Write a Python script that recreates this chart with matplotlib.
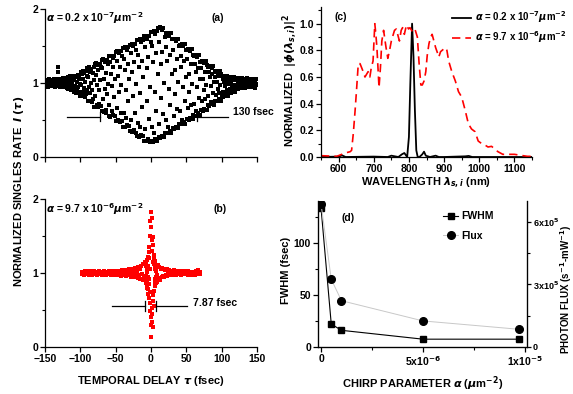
import numpy as np
import matplotlib
matplotlib.use('Agg')
import matplotlib.pyplot as plt
from matplotlib.ticker import MultipleLocator, FixedLocator

plt.rcParams['font.family'] = ['Liberation Sans', 'DejaVu Sans']
plt.rcParams['font.weight'] = 'bold'
plt.rcParams['axes.labelweight'] = 'bold'
plt.rcParams['font.size'] = 7.5
plt.rcParams['mathtext.default'] = 'it'

# ---- panel (a): singles rate, alpha = 0.2e-7, delay grid in fsec
tau_a = np.arange(-150, 150, 0.625)
rate_a = [
    1.02, 0.97, 1.04, 0.99, 0.96, 1.03, 1.01, 0.95, 1.05, 0.98, 1.02, 0.97, 1.04, 1.00, 0.96, 1.03,
    0.98, 1.04, 0.96, 1.02, 1.05, 0.97, 1.01, 0.95, 1.03, 0.99, 1.06, 0.96, 1.04, 1.21, 1.15, 0.97,
    1.03, 0.95, 1.06, 0.98, 0.94, 1.05, 1.01, 0.96, 1.07, 0.97, 1.03, 0.94, 1.06, 0.99, 0.95, 1.04,
    1.07, 0.93, 1.02, 1.08, 0.92, 0.98, 1.06, 0.94, 1.09, 0.96, 1.03, 0.91, 1.08, 0.99, 0.93, 1.07,
    1.10, 0.88, 1.04, 0.91, 1.09, 0.96, 0.87, 1.08, 1.01, 0.89, 1.11, 0.94, 1.06, 0.88, 1.09, 0.99,
    0.82, 1.15, 0.97, 1.12, 0.83, 1.05, 1.16, 0.88, 0.93, 1.14, 0.81, 1.02, 1.16, 0.85, 1.09, 0.91,
    1.20, 0.76, 1.08, 0.94, 1.21, 0.75, 1.15, 0.86, 1.00, 1.19, 0.74, 0.90, 1.13, 0.78, 1.21, 1.04,
    0.68, 1.26, 0.83, 1.11, 1.27, 0.70, 0.97, 1.24, 0.67, 1.18, 0.90, 0.72, 1.26, 1.04, 0.69, 1.22,
    1.31, 0.62, 1.20, 0.78, 1.32, 0.61, 1.05, 0.92, 1.29, 0.64, 1.14, 0.60, 1.31, 0.85, 0.99, 1.26,
    0.55, 1.36, 0.70, 1.28, 0.54, 1.12, 1.37, 0.62, 0.96, 1.34, 0.57, 1.21, 0.81, 1.37, 0.55, 1.05,
    1.42, 0.48, 1.30, 0.66, 1.43, 0.50, 1.10, 0.88, 1.40, 0.47, 1.22, 0.59, 1.43, 0.97, 0.49, 1.36,
    0.41, 1.47, 0.60, 1.33, 0.40, 1.18, 1.48, 0.53, 0.90, 1.45, 0.43, 1.25, 0.76, 1.48, 0.42, 1.05,
    1.52, 0.35, 1.40, 0.50, 1.53, 0.34, 1.15, 0.82, 1.50, 0.36, 1.28, 0.60, 1.53, 0.98, 0.33, 1.45,
    0.28, 1.58, 0.46, 1.38, 0.27, 1.22, 1.59, 0.40, 0.86, 1.55, 0.30, 1.30, 0.68, 1.58, 0.29, 1.08,
    1.63, 0.22, 1.48, 0.38, 1.64, 0.21, 1.20, 0.75, 1.60, 0.24, 1.35, 0.52, 1.64, 0.95, 0.20, 1.55,
    0.21, 1.69, 0.40, 1.50, 0.20, 1.28, 1.70, 0.33, 0.88, 1.66, 0.24, 1.40, 0.62, 1.70, 0.22, 1.12,
    1.74, 0.27, 1.55, 0.45, 1.75, 0.26, 1.25, 0.80, 1.71, 0.29, 1.42, 0.58, 1.74, 1.00, 0.27, 1.62,
    0.33, 1.67, 0.50, 1.48, 0.32, 1.30, 1.68, 0.40, 0.92, 1.64, 0.35, 1.38, 0.70, 1.68, 0.33, 1.12,
    1.59, 0.39, 1.45, 0.55, 1.60, 0.38, 1.18, 0.85, 1.57, 0.41, 1.32, 0.65, 1.60, 1.02, 0.39, 1.50,
    0.45, 1.52, 0.62, 1.36, 0.44, 1.22, 1.53, 0.50, 0.95, 1.50, 0.47, 1.30, 0.75, 1.53, 0.45, 1.08,
    1.45, 0.51, 1.33, 0.66, 1.46, 0.50, 1.12, 0.88, 1.43, 0.53, 1.25, 0.70, 1.46, 0.98, 0.51, 1.38,
    0.57, 1.37, 0.72, 1.26, 0.56, 1.15, 1.38, 0.62, 0.95, 1.35, 0.59, 1.20, 0.80, 1.38, 0.57, 1.05,
    1.29, 0.63, 1.20, 0.75, 1.30, 0.62, 1.05, 0.90, 1.27, 0.65, 1.15, 0.78, 1.30, 0.97, 0.63, 1.24,
    0.70, 1.22, 0.82, 1.15, 0.69, 1.08, 1.23, 0.74, 0.96, 1.20, 0.71, 1.12, 0.86, 1.23, 0.70, 1.02,
    1.15, 0.76, 1.08, 0.84, 1.16, 0.75, 1.02, 0.92, 1.14, 0.78, 1.10, 0.86, 1.16, 0.97, 0.76, 1.12,
    0.82, 1.09, 0.88, 1.05, 0.81, 1.01, 1.10, 0.85, 0.96, 1.08, 0.83, 1.04, 0.91, 1.10, 0.82, 0.99,
    1.07, 0.88, 1.03, 0.92, 1.08, 0.87, 0.99, 0.95, 1.06, 0.89, 1.04, 0.93, 1.08, 0.97, 0.88, 1.05,
    0.93, 1.06, 0.97, 1.04, 0.92, 1.01, 1.07, 0.95, 0.99, 1.05, 0.94, 1.03, 0.96, 1.07, 0.93, 1.00,
    1.05, 0.94, 1.02, 0.97, 1.06, 0.93, 1.00, 1.04, 0.95, 1.07, 0.98, 0.94, 1.03, 0.96, 1.05, 0.99,
    0.96, 1.04, 0.99, 1.06, 0.94, 1.02, 0.97, 1.05, 0.95, 1.03, 1.00, 0.93, 1.04, 0.98, 1.06, 0.97,
]

# ---- panel (b): singles rate, alpha = 9.7e-6
tau_b_left = np.arange(-98, -8, 1)
rate_b_left = [
    1.02, 0.98, 1.01, 0.97, 1.03, 0.99, 1.02, 0.98, 1.00, 1.03,
    0.97, 1.01, 1.03, 0.98, 1.00, 0.97, 1.02, 0.99, 1.03, 0.98,
    1.01, 0.97, 1.02, 0.99, 1.03, 0.98, 1.00, 1.02, 0.97, 1.01,
    0.99, 1.03, 0.98, 1.01, 0.97, 1.02, 1.00, 0.98, 1.03, 0.99,
    1.02, 0.97, 1.01, 0.99, 1.03, 0.98, 1.02, 0.97, 1.00, 1.03,
    0.98, 1.02, 0.97, 1.03, 0.99, 1.01, 0.96, 1.04, 0.98, 1.02,
    0.97, 1.04, 0.99, 0.96, 1.03, 1.01, 0.97, 1.05, 0.98, 1.03,
    0.95, 1.06, 0.99, 1.04, 0.94, 1.02, 1.07, 0.96, 1.03, 0.93,
    1.08, 0.97, 1.05, 0.92, 1.10, 0.99, 0.91, 1.12, 0.95, 1.15,
]
tau_b_core = np.arange(-8, 8.01, 0.25)
rate_b_core = [
    0.93, 1.09, 0.88, 1.14, 0.96, 0.86, 1.12, 1.02, 0.84,
    1.18, 0.90, 1.05, 0.80, 1.22, 0.95, 0.78, 1.10,
    0.72, 1.28, 0.92, 0.66, 1.20, 0.85, 1.35, 0.60,
    1.05, 0.48, 1.50, 0.74, 1.70, 0.40, 1.82, 0.30,
    1.62, 0.14, 1.44, 0.53, 1.75, 0.34, 1.30, 0.45,
    1.48, 0.27, 1.15, 0.62, 1.38, 0.70, 1.25, 0.55,
    1.12, 0.76, 1.20, 0.82, 1.08, 0.88, 1.16, 0.92,
    1.06, 0.86, 1.11, 0.94, 1.03, 0.90, 1.08, 0.97,
]
tau_b_right = np.arange(9, 71, 1)
rate_b_right = [
    0.88, 1.11, 0.93, 1.08, 0.90, 1.06, 0.94, 1.07, 0.96, 1.05,
    0.95, 1.04, 0.97, 1.05, 0.96, 1.03, 0.98, 1.04, 0.97, 1.02,
    1.03, 0.97, 1.02, 0.98, 1.04, 0.99, 1.01, 0.97, 1.03, 0.98,
    1.01, 0.98, 1.03, 0.97, 1.02, 0.99, 1.01, 0.98, 1.03, 0.99,
    0.98, 1.02, 0.99, 1.03, 0.97, 1.01, 0.98, 1.02, 1.00, 0.97,
    1.02, 0.98, 1.01, 0.97, 1.03, 0.99, 1.02, 0.98, 1.04, 0.99,
    1.02, 0.98,
]

# ---- panel (c): spectra
wl_red = [550, 595, 609, 619, 633, 637, 642, 647, 651, 656, 661, 670, 675, 684, 689, 693, 698,
          703, 706, 709, 712, 715, 719, 723, 728, 735, 740, 745, 750, 759, 764, 768, 773, 778,
          782, 787, 793, 799, 803, 810, 817, 824, 829, 834, 838, 843, 848, 852, 857, 862, 866,
          871, 876, 880, 885, 890, 899, 904, 908, 913, 922, 932, 941, 950, 960, 969, 978, 988,
          997, 1007, 1016, 1025, 1035, 1044, 1053, 1067, 1081, 1100, 1119, 1137, 1150]
spec_red = [0.01, 0.005, 0.02, 0.03, 0.04, 0.05, 0.18, 0.35, 0.50, 0.70, 0.70, 0.64, 0.60,
            0.64, 0.60, 0.67, 0.72, 1.00, 0.92, 0.82, 0.67, 0.52, 0.67, 0.87, 0.95, 0.82, 0.74,
            0.80, 0.87, 0.95, 0.96, 0.92, 0.87, 0.95, 0.97, 0.92, 0.99, 0.96, 0.97, 0.94, 0.96,
            0.90, 0.70, 0.54, 0.54, 0.57, 0.64, 0.76, 0.85, 0.90, 0.92, 0.87, 0.82, 0.79, 0.75,
            0.79, 0.81, 0.82, 0.80, 0.72, 0.64, 0.57, 0.49, 0.45, 0.35, 0.25, 0.21, 0.19, 0.12,
            0.10, 0.09, 0.075, 0.08, 0.06, 0.04, 0.02, 0.02, 0.02, 0.012, 0.005, 0.005]
wl_black = [550, 600, 610, 620, 700, 740, 750, 760, 770, 780, 787, 795, 800, 804, 809, 813,
            817, 821, 825, 830, 838, 843, 848, 860, 876, 885, 900, 960, 970, 980, 1150]
spec_black = [0.0, 0.003, 0.012, 0.0, 0.003, 0.0, 0.01, 0.005, 0.0, 0.02, 0.03, 0.0, 0.15,
              0.55, 1.0, 0.75, 0.35, 0.05, 0.0, 0.0, 0.02, 0.04, 0.01, 0.0, 0.01, 0.0, 0.0,
              0.005, 0.008, 0.0, 0.0]

# ---- panel (d): chirp dependence
chirp = [0.0, 5e-7, 1e-6, 5e-6, 9.7e-6]
fwhm = [133, 22, 16, 7.5, 7.5]
flux = [6.85e5, 3.25e5, 2.22e5, 1.25e5, 0.85e5]

W, H = 573, 394
fig = plt.figure(figsize=(W / 100, H / 100), dpi=100)


def rect(x0, y0, x1, y1):
    return [x0 / W, 1 - y1 / H, (x1 - x0) / W, (y1 - y0) / H]


def style(ax, right=False):
    ax.spines['top'].set_visible(False)
    if not right:
        ax.spines['right'].set_visible(False)
    ax.tick_params(direction='out', length=3.5, width=0.9, pad=1.5, labelsize=7.5)
    ax.tick_params(which='minor', direction='out', length=2, width=0.8)
    for s in ax.spines.values():
        s.set_linewidth(0.9)


# (a)
ax_a = fig.add_axes(rect(45, 9, 257, 157))
ax_a.plot(tau_a, rate_a, 's', color='black', ms=2.6, mew=0)
ax_a.set_xlim(-150, 150)
ax_a.set_ylim(0, 2)
ax_a.set_xticks(np.arange(-150, 151, 50))
ax_a.set_xticklabels([])
ax_a.set_yticks([0, 1, 2])
ax_a.yaxis.set_minor_locator(MultipleLocator(0.5))
style(ax_a)
ax_a.plot([-119, -72], [0.545, 0.545], color='black', lw=0.9)
ax_a.plot([-72, -72], [0.48, 0.61], color='black', lw=0.9)
ax_a.plot([65, 109], [0.545, 0.545], color='black', lw=0.9)
ax_a.plot([65, 65], [0.48, 0.61], color='black', lw=0.9)
ax_a.text(116, 0.61, '130 fsec', va='center', ha='left', clip_on=False)
ax_a.text(-148, 1.88, r'$\alpha$ = 0.2 x 10$^{-7}$$\mu$m$^{-2}$', va='center', ha='left')
ax_a.text(94, 1.88, '(a)', va='center', ha='center')

# (b)
ax_b = fig.add_axes(rect(45, 199, 257, 347))
red = '#ff0000'
for t, r in [(tau_b_left, rate_b_left), (tau_b_core, rate_b_core), (tau_b_right, rate_b_right)]:
    ax_b.plot(t, r, 's', color=red, ms=2.6, mew=0)
ax_b.set_xlim(-150, 150)
ax_b.set_ylim(0, 2)
ax_b.set_xticks(np.arange(-150, 151, 50))
ax_b.set_yticks([0, 1, 2])
ax_b.yaxis.set_minor_locator(MultipleLocator(0.5))
style(ax_b)
ax_b.plot([-55, -8.5], [0.555, 0.555], color='black', lw=0.9)
ax_b.plot([-8.5, -8.5], [0.49, 0.62], color='black', lw=0.9)
ax_b.plot([7, 51], [0.555, 0.555], color='black', lw=0.9)
ax_b.plot([7, 7], [0.49, 0.62], color='black', lw=0.9)
ax_b.text(60, 0.59, '7.87 fsec', va='center', ha='left')
ax_b.text(-148, 1.86, r'$\alpha$ = 9.7 x 10$^{-6}$$\mu$m$^{-2}$', va='center', ha='left')
ax_b.text(98, 1.86, '(b)', va='center', ha='center')
ax_b.set_xlabel(r'TEMPORAL DELAY $\tau$ (fsec)', fontsize=8, labelpad=7)

fig.text(19 / W, 1 - 191 / H, r'NORMALIZED SINGLES RATE  $I$ $(\tau)$', rotation=90,
         ha='center', va='center', fontsize=8)

# (c)
ax_c = fig.add_axes(rect(321, 7, 532, 157))
ax_c.plot(wl_black, spec_black, color='black', lw=1.3,
          label=r'$\alpha$ = 0.2 x 10$^{-7}$$\mu$m$^{-2}$')
ax_c.plot(wl_red, spec_red, color=red, lw=1.2, ls=(0, (5, 3)),
          label=r'$\alpha$ = 9.7 x 10$^{-6}$$\mu$m$^{-2}$')
ax_c.set_xlim(550, 1150)
ax_c.set_ylim(0, 1.125)
ax_c.set_xticks(np.arange(600, 1101, 100))
ax_c.xaxis.set_minor_locator(MultipleLocator(50))
ax_c.set_yticks(np.arange(0, 1.01, 0.2))
ax_c.yaxis.set_minor_locator(MultipleLocator(0.1))
ax_c.yaxis.set_major_formatter(plt.FormatStrFormatter('%.1f'))
style(ax_c)
ax_c.text(605, 1.05, '(c)', va='center', ha='center')
ax_c.set_xlabel(r'WAVELENGTH $\lambda_{s,i}$ (nm)', fontsize=8, labelpad=1)
ax_c.legend(loc='upper left', bbox_to_anchor=(0.62, 0.985), frameon=False, fontsize=7,
            handlelength=2.0, handletextpad=0.4, labelspacing=0.45, borderaxespad=0,
            borderpad=0)
fig.text(290 / W, 1 - 80 / H, r'NORMALIZED  $|\phi(\lambda_{s,i})|^2$', rotation=90,
         ha='center', va='center', fontsize=8)

# (d)
ax_d = fig.add_axes(rect(318, 201, 527, 347))
ln1, = ax_d.plot(chirp, fwhm, '-s', color='black', lw=0.8, ms=4.5, label='FWHM')
ax_d.set_xlim(-1.5e-7, 1.01e-5)
ax_d.set_ylim(0, 140)
ax_d.set_xticks([0, 5e-6, 1e-5])
ax_d.set_xticklabels(['0', r'5x10$^{-6}$', r'1x10$^{-5}$'])
ax_d.xaxis.set_minor_locator(FixedLocator([2.5e-6, 7.5e-6]))
ax_d.set_yticks([0, 50, 100])
ax_d.yaxis.set_minor_locator(FixedLocator([25, 75, 125]))
style(ax_d, right=True)
ax_d2 = ax_d.twinx()
ln2, = ax_d2.plot(chirp, flux, '-o', color='#c8c8c8', lw=0.7, ms=5.5, mfc='black',
                  mec='black', label='Flux')
ax_d2.set_ylim(0, 7e5)
ax_d2.set_yticks([0, 3e5, 6e5])
ax_d2.set_yticklabels(['0', r'3x10$^5$', r'6x10$^5$'])
ax_d2.yaxis.set_minor_locator(FixedLocator([1.5e5, 4.5e5]))
ax_d2.spines['top'].set_visible(False)
ax_d2.tick_params(direction='out', length=3, width=0.9, pad=1, labelsize=6.5)
ax_d2.tick_params(which='minor', direction='out', length=2, width=0.8)
ax_d.text(1.3e-6, 124, '(d)', va='center', ha='center')
ax_d.set_xlabel(r'CHIRP PARAMETER $\alpha$ ($\mu$m$^{-2}$)', fontsize=8, labelpad=5)
ax_d.legend([ln1, ln2], ['FWHM', 'Flux'], loc='upper left', bbox_to_anchor=(0.6, 0.93),
            frameon=False, fontsize=7.5, handlelength=1.4, handletextpad=0.3, labelspacing=0.9,
            borderaxespad=0, borderpad=0)
fig.text(286 / W, 1 - 270 / H, 'FWHM (fsec)', rotation=90, ha='center', va='center', fontsize=8)
fig.text(566 / W, 1 - 290 / H, r'PHOTON FLUX (s$^{-1}$-mW$^{-1}$)', rotation=90,
         ha='center', va='center', fontsize=7)

fig.savefig('out.png', dpi=100)
